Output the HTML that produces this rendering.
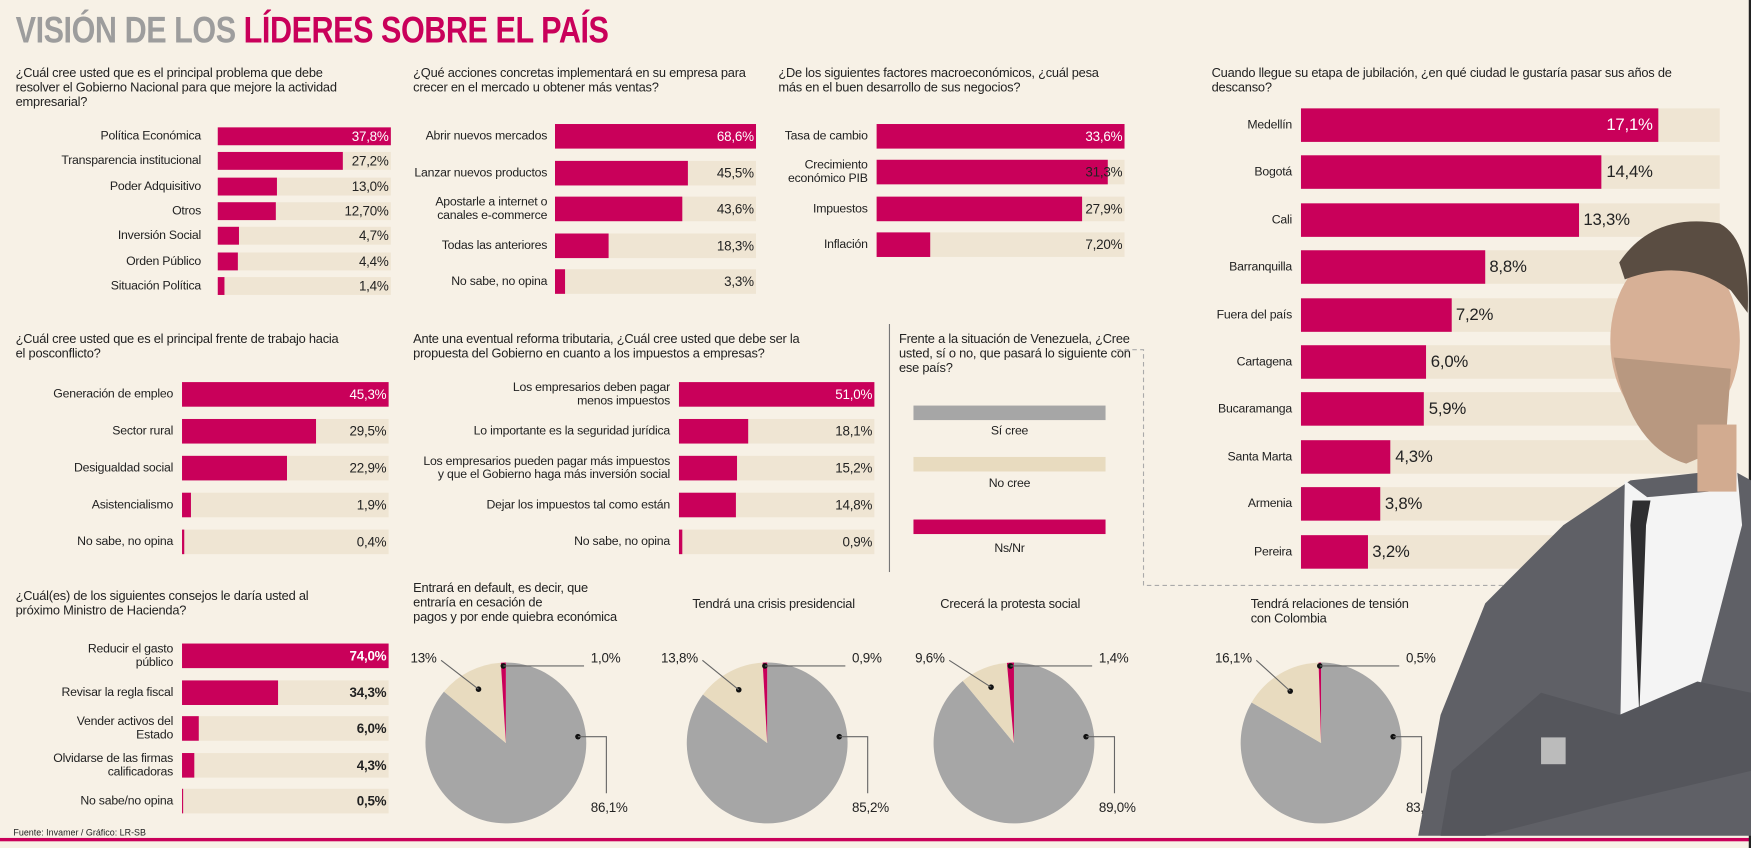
<!DOCTYPE html>
<html><head><meta charset="utf-8">
<style>
html,body{margin:0;padding:0;background:#f7f1e6;overflow:hidden}
#wrap{width:1751px;height:848px;overflow:hidden;position:relative;background:#f7f1e6}
#page{position:absolute;left:0;top:0;width:1568px;height:759px;transform:scale(1.11671,1.11726);transform-origin:0 0;font-family:"Liberation Sans",sans-serif;color:#222}
.q{position:absolute;font-size:11.5px;line-height:13px;color:#222;letter-spacing:-0.2px}
.t{position:absolute;font-size:11px;line-height:12px;white-space:nowrap;letter-spacing:-0.2px}
.trk{position:absolute;background:#efe5d3}
.bar{position:absolute;background:#c9005a}
</style></head><body>
<div id="wrap">
<div id="page">
<div style="position:absolute;left:14px;top:8px;font-size:33px;font-weight:bold;letter-spacing:-0.5px;white-space:nowrap;transform:scaleX(0.83);transform-origin:0 0"><span style="color:#9d9d9d">VISIÓN DE LOS </span><span style="color:#c9005a">LÍDERES SOBRE EL PAÍS</span></div>

<div class="q" style="left:14px;top:60px;width:300px">¿Cuál cree usted que es el principal problema que debe resolver el Gobierno Nacional para que mejore la actividad empresarial?</div>
<div class="q" style="left:370px;top:60px;width:300px">¿Qué acciones concretas implementará en su empresa para crecer en el mercado u obtener más ventas?</div>
<div class="q" style="left:697px;top:60px;width:310px">¿De los siguientes factores macroeconómicos, ¿cuál pesa más en el buen desarrollo de sus negocios?</div>
<div class="q" style="left:1085px;top:60px;width:440px">Cuando llegue su etapa de jubilación, ¿en qué ciudad le gustaría pasar sus años de descanso?</div>
<div class="q" style="left:14px;top:298px;width:300px">¿Cuál cree usted que es el principal frente de trabajo hacia el posconflicto?</div>
<div class="q" style="left:370px;top:298px;width:370px">Ante una eventual reforma tributaria, ¿Cuál cree usted que debe ser la propuesta  del Gobierno en cuanto a los impuestos a empresas?</div>
<div class="q" style="left:805px;top:298px;width:215px">Frente a la situación de Venezuela, ¿Cree usted, sí o no, que pasará lo siguiente con ese país?</div>
<div class="q" style="left:14px;top:528px;width:300px">¿Cuál(es) de los siguientes consejos le daría usted al próximo Ministro de Hacienda?</div>

<div style="position:absolute;left:796px;top:290px;width:1px;height:222px;background:#777"></div>
<svg style="position:absolute;left:0;top:0" width="1568" height="759"><polyline points="1000,313 1024,313 1024,524 1560,524" fill="none" stroke="#aaa" stroke-dasharray="4,3"/></svg>

<div><div style="position:absolute;left:818px;top:363px;width:172px;height:13px;background:#a6a6a6"></div><div class="t" style="left:818px;width:172px;text-align:center;top:380px">Sí cree</div></div>
<div><div style="position:absolute;left:818px;top:409px;width:172px;height:13px;background:#e8dbbf"></div><div class="t" style="left:818px;width:172px;text-align:center;top:427px">No cree</div></div>
<div><div style="position:absolute;left:818px;top:465px;width:172px;height:13px;background:#c9005a"></div><div class="t" style="left:818px;width:172px;text-align:center;top:485px">Ns/Nr</div></div>

<svg id="person" style="position:absolute;left:0;top:0" width="1568" height="759">
<path d="M1270,748 L1290,640 L1330,540 L1400,470 L1460,430 L1550,420 L1568,430 L1568,748 Z" fill="#5f6066"/>
<path d="M1455,430 L1475,445 L1530,440 L1555,415 L1560,470 L1500,700 L1450,700 Z" fill="#f4f4f4"/>
<path d="M1462,448 L1478,448 L1474,470 L1468,640 L1460,470 Z" fill="#2e2e30"/>
<path d="M1300,690 L1380,620 L1450,640 L1520,610 L1568,620 L1568,690 L1440,720 L1330,748 L1290,748 Z" fill="#55565c"/>
<ellipse cx="1500" cy="305" rx="58" ry="82" fill="#d7b096"/>
<path d="M1445,320 Q1460,400 1510,415 L1545,400 L1550,330 Z" fill="#b89880"/>
<path d="M1450,235 Q1480,190 1540,200 Q1568,215 1565,280 L1550,260 Q1510,230 1455,250 Z" fill="#5a4d42"/>
<rect x="1520" y="380" width="35" height="60" fill="#d2ab90"/>
<rect x="1380" y="660" width="22" height="24" fill="#bbb"/>
</svg>

<div style="position:absolute;left:12px;top:741px;font-size:8px">Fuente: Invamer / Gráfico: LR-SB</div>
<div style="position:absolute;left:0;top:750px;width:1568px;height:3px;background:#c9005a"></div>
<div style="position:absolute;left:1566px;top:0;width:2px;height:759px;background:#222"></div>
</div></div>
<script>
// ---- data ----
const c1Labels=["Política Económica","Transparencia institucional","Poder Adquisitivo","Otros","Inversión Social","Orden Público","Situación Política"];
const c1Values=[37.8,27.2,13.0,12.7,4.7,4.4,1.4];
const c1Text=["37,8%","27,2%","13,0%","12,70%","4,7%","4,4%","1,4%"];
const c2Labels=["Abrir nuevos mercados","Lanzar nuevos productos","Apostarle a internet o<br>canales e-commerce","Todas las anteriores","No sabe, no opina"];
const c2Values=[68.6,45.5,43.6,18.3,3.3];
const c2Text=["68,6%","45,5%","43,6%","18,3%","3,3%"];
const c3Labels=["Tasa de cambio","Crecimiento<br>económico PIB","Impuestos","Inflación"];
const c3Values=[33.6,31.3,27.9,7.2];
const c3Text=["33,6%","31,3%","27,9%","7,20%"];
const c4Labels=["Medellín","Bogotá","Cali","Barranquilla","Fuera del país","Cartagena","Bucaramanga","Santa Marta","Armenia","Pereira"];
const c4Values=[17.1,14.4,13.3,8.8,7.2,6.0,5.9,4.3,3.8,3.2];
const c4Text=["17,1%","14,4%","13,3%","8,8%","7,2%","6,0%","5,9%","4,3%","3,8%","3,2%"];
const c5Labels=["Generación de empleo","Sector rural","Desigualdad social","Asistencialismo","No sabe, no opina"];
const c5Values=[45.3,29.5,22.9,1.9,0.4];
const c5Text=["45,3%","29,5%","22,9%","1,9%","0,4%"];
const c6Labels=["Los empresarios deben pagar<br>menos impuestos","Lo importante es la seguridad jurídica","Los empresarios pueden pagar más impuestos<br>y que el Gobierno haga más inversión social","Dejar los impuestos tal como están","No sabe, no opina"];
const c6Values=[51.0,18.1,15.2,14.8,0.9];
const c6Text=["51,0%","18,1%","15,2%","14,8%","0,9%"];
const c7Labels=["Reducir el gasto<br>público","Revisar la regla fiscal","Vender activos del<br>Estado","Olvidarse de las firmas<br>calificadoras","No sabe/no opina"];
const c7Values=[74.0,34.3,6.0,4.3,0.5];
const c7Text=["74,0%","34,3%","6,0%","4,3%","0,5%"];
const pieTitles=["Entrará en default, es decir, que<br>entraría en cesación de<br>pagos y por ende quiebra económica","Tendrá una crisis presidencial","Crecerá la protesta social","Tendrá relaciones de tensión<br>con Colombia"];
const pieSi=[86.1,85.2,89.0,83.4];
const pieNo=[13,13.8,9.6,16.1];
const pieNs=[1.0,0.9,1.4,0.5];
const pieSiText=["86,1%","85,2%","89,0%","83,4%"];
const pieNoText=["13%","13,8%","9,6%","16,1%"];
const pieNsText=["1,0%","0,9%","1,4%","0,5%"];

const page=document.getElementById('page');
function mk(cls,css,html){const d=document.createElement('div');if(cls)d.className=cls;d.style.cssText=css;if(html!==undefined)d.innerHTML=html;page.appendChild(d);return d;}
function hbar(name,labels,values,texts,o){
  const max=Math.max(...values);
  const full=o.full||(o.x1-o.x0);
  labels.forEach((lab,i)=>{
    const cy=o.y0+i*o.step;
    const tr=mk('trk',`left:${o.x0}px;top:${cy-o.h/2}px;width:${o.x1-o.x0}px;height:${o.h}px`);
    
    
    const w=full*values[i]/max;
    const b=mk('bar',`left:${o.x0}px;top:${cy-o.h/2}px;width:${w}px;height:${o.h}px`);
    
    
    const l=mk('t',`right:${1568-o.lx}px;top:${cy}px;transform:translateY(-50%);text-align:right;line-height:12px`,lab);
    
    
    let vcss;
    if(o.outside){ vcss= i===0?`right:${1568-(o.x0+w-5)}px;color:#fff`:`left:${o.x0+w+4}px`; }
    else { vcss=`right:${1568-(o.x1-2)}px;`+(i===0?'color:#fff':''); }
    const v=mk('t',vcss+`;top:${cy}px;transform:translateY(-50%);font-size:${o.fs}px;line-height:${o.fs}px;${o.bold?'font-weight:bold':''}`,texts[i]);
    
    
  });
}
hbar('problema',c1Labels,c1Values,c1Text,{x0:195,x1:350,y0:122,step:22.3,h:16,lx:180,fs:12});
hbar('acciones',c2Labels,c2Values,c2Text,{x0:497,x1:677,y0:122,step:32.5,h:22,lx:490,fs:12});
hbar('factores',c3Labels,c3Values,c3Text,{x0:785,x1:1007,y0:122,step:32.3,h:22,lx:777,fs:12});
hbar('jubilacion',c4Labels,c4Values,c4Text,{x0:1165,x1:1540,full:320,y0:112,step:42.4,h:30,lx:1157,fs:15,outside:true});
hbar('posconflicto',c5Labels,c5Values,c5Text,{x0:163,x1:348,y0:353,step:33,h:22,lx:155,fs:12});
hbar('reforma',c6Labels,c6Values,c6Text,{x0:608,x1:783,y0:353,step:33,h:22,lx:600,fs:12});
hbar('consejos',c7Labels,c7Values,c7Text,{x0:163,x1:348,y0:587,step:32.5,h:22,lx:155,fs:12,bold:true});

// pies
const NS='http://www.w3.org/2000/svg';
const svg=document.createElementNS(NS,'svg');
svg.setAttribute('width','1568');svg.setAttribute('height','759');
svg.style.cssText='position:absolute;left:0;top:0';


page.insertBefore(svg,document.getElementById('person'));
const pieCx=[453,687,908,1183], titleX=[370,620,842,1120];
function pt(cx,cy,r,a){const t=(a-90)*Math.PI/180;return [cx+r*Math.cos(t),cy+r*Math.sin(t)];}
function arc(cx,cy,r,a0,a1,fill,nm){
  const p0=pt(cx,cy,r,a0),p1=pt(cx,cy,r,a1);const large=(a1-a0)>180?1:0;
  const p=document.createElementNS(NS,'path');
  p.setAttribute('d',`M${cx},${cy} L${p0[0]},${p0[1]} A${r},${r} 0 ${large} 1 ${p1[0]},${p1[1]} Z`);
  p.setAttribute('fill',fill);
  
  
  svg.appendChild(p);
}
function line(pts){const l=document.createElementNS(NS,'polyline');l.setAttribute('points',pts);l.setAttribute('fill','none');l.setAttribute('stroke','#666');l.setAttribute('stroke-width','1');svg.appendChild(l);}
function dot(x,y){const c=document.createElementNS(NS,'circle');c.setAttribute('cx',x);c.setAttribute('cy',y);c.setAttribute('r',2.5);c.setAttribute('fill','#111');svg.appendChild(c);}
pieCx.forEach((cx,i)=>{
  const cy=665,r=72;const tot=pieSi[i]+pieNo[i]+pieNs[i];
  const a1=360*pieSi[i]/tot,a2=a1+360*pieNo[i]/tot;
  arc(cx,cy,r,0,a1,'#a6a6a6','pie-si');
  arc(cx,cy,r,a1,a2,'#e8dbbf','pie-no');
  arc(cx,cy,r,a2,360,'#c9005a','pie-nsnr');
  const bd=pt(cx,cy,r*0.75,(a1+a2)/2);dot(bd[0],bd[1]);line(`${bd[0]},${bd[1]} ${cx-58},${cy-74}`);
  const nd=pt(cx,cy,r,(a2+360)/2);dot(nd[0],nd[1]+3);line(`${nd[0]},${nd[1]+3} ${cx+70},${nd[1]+3}`);
  const gd=pt(cx,cy,r*0.9,85);dot(gd[0],gd[1]);line(`${gd[0]},${gd[1]} ${cx+90},${gd[1]} ${cx+90},${cy+45}`);
  const t=mk('q',`left:${titleX[i]}px;top:${i===0?521:535}px;width:200px`,pieTitles[i]);
  
  
  const ln=mk('t',`right:${1568-(cx-62)}px;top:${cy-82}px;font-size:12px`,pieNoText[i]);
  
  
  const ls=mk('t',`left:${cx+76}px;top:${cy-82}px;font-size:12px`,pieNsText[i]);
  
  
  const lg=mk('t',`left:${cx+76}px;top:${cy+52}px;font-size:12px`,pieSiText[i]);
  
  
});
page.appendChild(document.getElementById('person'));
</script>
</body></html>
